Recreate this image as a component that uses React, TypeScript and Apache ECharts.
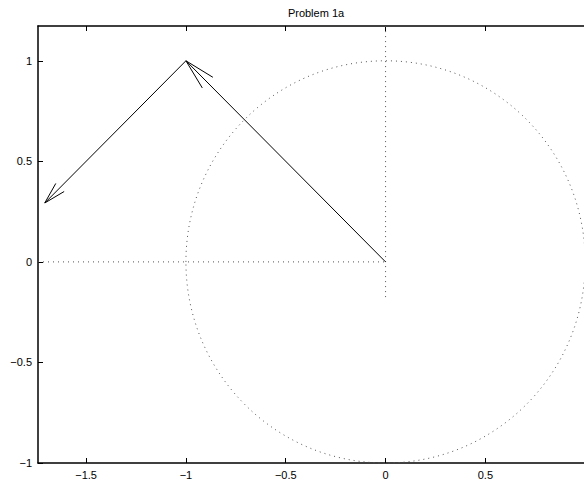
import React, { useEffect, useRef } from "react";
import * as echarts from "echarts";

const title = "Problem 1a";
const xTicks = [-1.5, -1, -0.5, 0, 0.5];
const yTicks = [-1, -0.5, 0, 0.5, 1];
const xMin = -1.741;
const xMax = 0.994;
const yMin = -1;
const yMax = 1.173;

// vectors (solid)
const vector1: number[][] = [[0, 0], [-1, 1]];
const vector2: number[][] = [[-1, 1], [-1.7071, 0.2929]];
const head1: number[][] = [[-0.865, 0.918], [-1, 1], [-0.918, 0.865]];
const head2: number[][] = [[-1.652, 0.39], [-1.7071, 0.2929], [-1.61, 0.35]];

// dotted reference lines
const hRef: number[][] = [[xMin, 0], [0, 0]];
const vRef: number[][] = [[0, -0.175], [0, yMax]];
// dotted unit circle: [centerX, centerY, radius]
const circle: number[][] = [[0, 0, 1]];

const FONT = "'Liberation Sans', Arial, Helvetica, sans-serif";
const fmt = (v: number) => String(v).replace("-", "\u2212");

export default function App() {
  const ref = useRef<HTMLDivElement>(null);
  useEffect(() => {
    document.body.style.margin = "0";
    const chart = echarts.init(ref.current!, null, { renderer: "svg" });
    const solid = { color: "#000", width: 1 };
    const dotted = { color: "#555", width: 1, type: [1, 4] as any };
    const line = (data: number[][], ls: any) => ({
      type: "line",
      data,
      showSymbol: false,
      symbol: "none",
      silent: true,
      lineStyle: ls,
      clip: true,
    });
    chart.setOption({
      animation: false,
      backgroundColor: "#fff",
      grid: { left: 38, top: 26, right: -1, bottom: 17 },
      graphic: [
        {
          type: "text",
          x: 316,
          y: 13,
          style: {
            text: title,
            fontFamily: FONT,
            fontSize: 11,
            fill: "#000",
            textAlign: "center",
            textVerticalAlign: "middle",
          },
        },
      ],
      xAxis: [
        {
          type: "value",
          min: xMin,
          max: xMax,
          position: "bottom",
          splitLine: { show: false },
          axisLine: { show: true, onZero: false, lineStyle: { color: "#000", width: 1.5 } },
          axisTick: { show: true, inside: true, length: 5, customValues: xTicks, lineStyle: { color: "#000" } },
          axisLabel: {
            customValues: xTicks,
            formatter: fmt,
            color: "#000",
            fontFamily: FONT,
            fontSize: 11,
            margin: 6,
          },
        },
        {
          type: "value",
          min: xMin,
          max: xMax,
          position: "top",
          splitLine: { show: false },
          axisLine: { show: true, onZero: false, lineStyle: { color: "#000", width: 1.5 } },
          axisTick: { show: true, inside: true, length: 5, customValues: xTicks, lineStyle: { color: "#000" } },
          axisLabel: { show: false },
        },
      ],
      yAxis: [
        {
          type: "value",
          min: yMin,
          max: yMax,
          position: "left",
          splitLine: { show: false },
          axisLine: { show: true, onZero: false, lineStyle: { color: "#000", width: 1.5 } },
          axisTick: { show: true, inside: true, length: 5, customValues: yTicks, lineStyle: { color: "#000" } },
          axisLabel: {
            customValues: yTicks,
            formatter: fmt,
            color: "#000",
            fontFamily: FONT,
            fontSize: 11,
            margin: 6,
          },
        },
      ],
      series: [
        line(hRef, dotted),
        line(vRef, dotted),
        {
          type: "custom",
          silent: true,
          data: circle,
          renderItem: (params: any, api: any) => {
            const c = api.coord([api.value(0), api.value(1)]);
            const s = api.size([api.value(2), api.value(2)]);
            return {
              type: "ellipse",
              shape: { cx: c[0], cy: c[1], rx: s[0], ry: s[1] },
              style: { fill: "none", stroke: "#555", lineWidth: 1, lineDash: [1, 4] },
            };
          },
        },
        line(vector1, solid),
        line(vector2, solid),
        line(head1, solid),
        line(head2, solid),
      ],
    });
    return () => chart.dispose();
  }, []);
  return <div ref={ref} style={{ width: 584, height: 480 }} />;
}
